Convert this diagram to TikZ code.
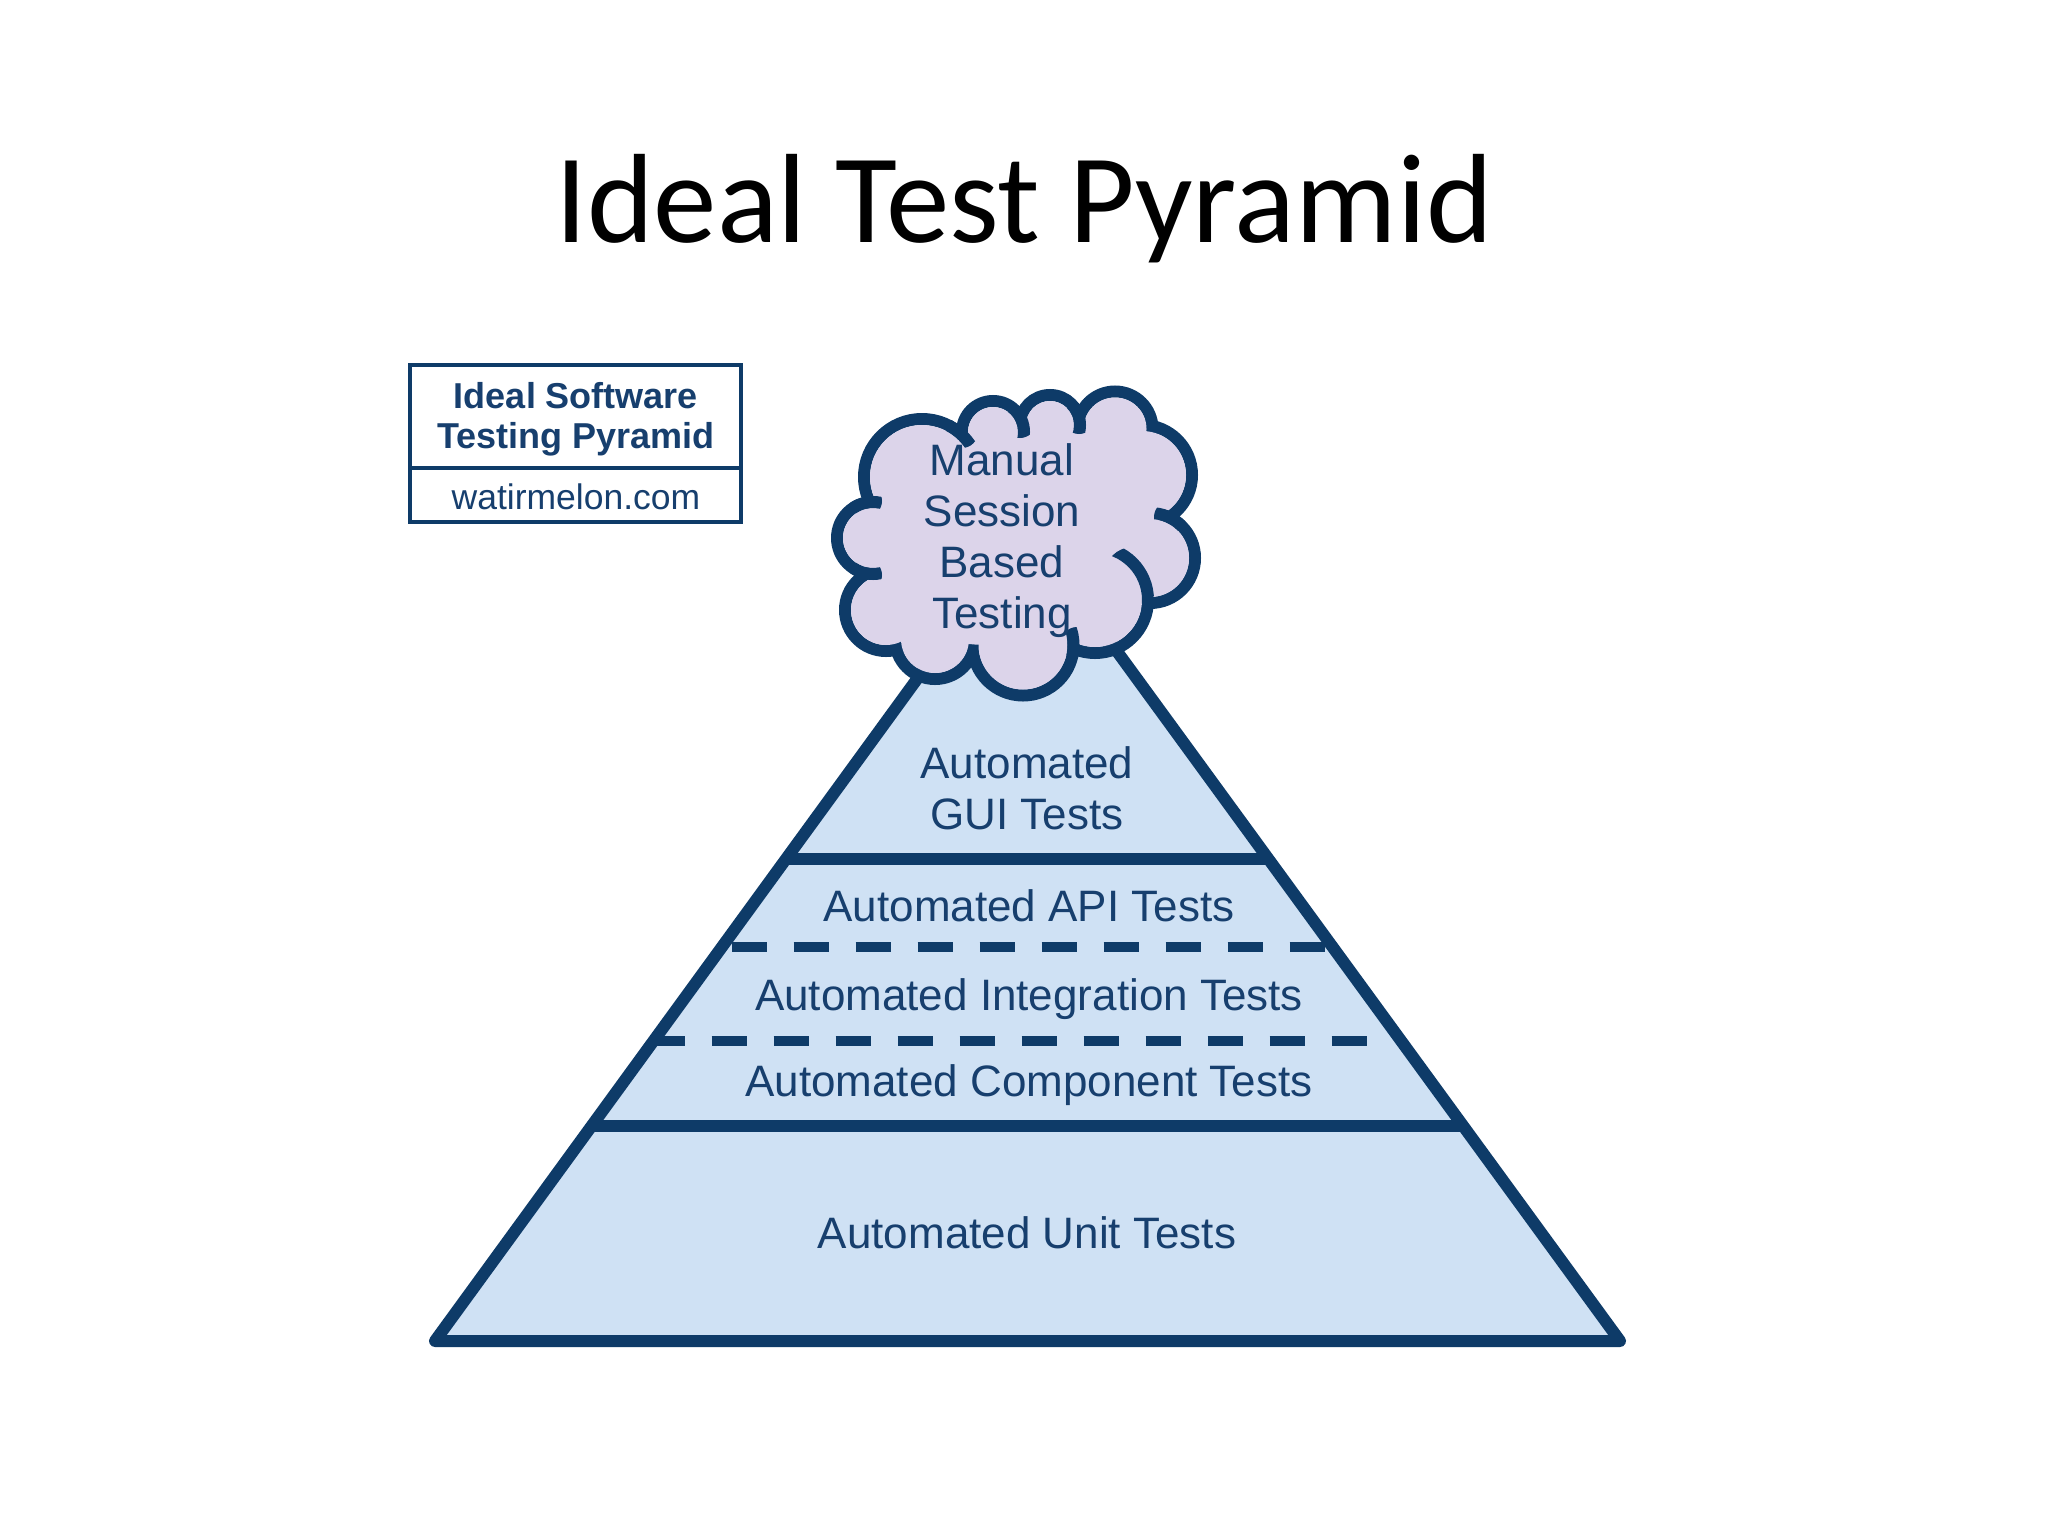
\documentclass[tikz,border=0pt]{standalone}
\usepackage{fontspec}
\setmainfont{Liberation Sans}
\newfontfamily\titlefont{Carlito}
\usetikzlibrary{calc}
\definecolor{navy}{HTML}{0E3B68}
\definecolor{labelc}{HTML}{173F6E}
\definecolor{pyrfill}{HTML}{CFE1F4}
\definecolor{cloudfill}{HTML}{DCD4EA}
\begin{document}
\begin{tikzpicture}[x=1pt,y=-1pt,
  edge/.style={draw=navy, line width=12pt, line join=round, line cap=round},
  divider/.style={draw=navy, line width=12pt},
  dashline/.style={draw=navy, line width=10pt, dash pattern=on 35pt off 27pt},
  label/.style={text=labelc, font=\fontsize{44}{51}\selectfont, align=center, inner sep=0pt},
  cell/.style={draw=navy, line width=4pt, inner sep=0pt, outer sep=0pt, minimum width=331pt},
  celltext/.style={text=labelc, align=center, inner sep=0pt},
  cloudline/.style={draw=navy, line width=12pt},
]
\useasboundingbox[fill=white] (0,0) rectangle (2048,1536);

% title
\node[font=\titlefont\fontsize{127}{132}\selectfont, anchor=base, inner sep=0pt] (title) at (1024,242) {Ideal Test Pyramid};

% legend box
\node[cell, minimum height=103pt] (boxtop) at (575.5,416.5) {};
\node[cell, minimum height=53.5pt, anchor=north] (boxbot) at (boxtop.south) {};
\node[celltext, font=\bfseries\fontsize{36}{40.5}\selectfont] (boxtitle) at (576,419.5) {Ideal Software\\Testing Pyramid};
\node[celltext, font=\fontsize{35.5}{40}\selectfont, anchor=base] (boxurl) at (576,509) {watirmelon.com};

% pyramid
\coordinate (bl) at (435,1341);
\coordinate (br) at (1620,1341);
\coordinate (apex) at (1027,528);
\path[fill=pyrfill] (bl) -- (apex) -- (br) -- cycle;

\coordinate (s1l) at ($(bl)!0.593!(apex)$);
\coordinate (s1r) at ($(br)!0.593!(apex)$);
\coordinate (s2l) at ($(bl)!0.264!(apex)$);
\coordinate (s2r) at ($(br)!0.264!(apex)$);
\coordinate (d1s) at (731.7,946.7);
\coordinate (d1e) at (1400,946.7);
\coordinate (d2s) at (649.7,1040.7);
\coordinate (d2e) at (1368,1040.7);

\begin{scope}
  \clip (bl) -- (apex) -- (br) -- cycle;
  \draw[divider] (s1l) -- (s1r);
  \draw[divider] (s2l) -- (s2r);
  \draw[dashline] (d1s) -- (d1e);
  \draw[dashline] (d2s) -- (d2e);
\end{scope}
\draw[edge] (bl) -- (apex) -- (br) -- cycle;

% labels
\node[label] (gui) at (1027,788.5) {Automated\\GUI Tests};
\node[label, anchor=base] (api) at (1029,921) {Automated API Tests};
\node[label, anchor=base] (integ) at (1029,1010) {Automated Integration Tests};
\node[label, anchor=base] (comp) at (1029,1096) {Automated Component Tests};
\node[label, anchor=base] (unit) at (1027,1248) {Automated Unit Tests};

% cloud: puff circles (centre and radius)
\coordinate (ctr) at (1015,540);
\coordinate (nA) at (962,432);
\coordinate (nB) at (1020,422);
\coordinate (nC) at (1079,418);
\coordinate (nK) at (1153,424);
\coordinate (nD) at (1170,517);
\coordinate (nE) at (1147,603);
\coordinate (nF) at (1077,643);
\coordinate (nG) at (973,656);
\coordinate (nH) at (895,646);
\coordinate (nI) at (866,575);
\coordinate (nJ) at (866,501);
\def\puffs{922/477/58, 993/432/31, 1050/425/30, 1115/429/37.5, 1142/475/50, 1150/558/45, 1095/600/53, 1023/645/50.5, 935/639/40, 886/610/41, 873/538/36}
\foreach \cx/\cy/\r in \puffs {\draw[cloudline] (\cx,\cy) circle[radius=\r];}
\fill[cloudfill] ($(nA)!12pt!(ctr)$) -- ($(nB)!12pt!(ctr)$) -- ($(nC)!12pt!(ctr)$) -- ($(nK)!12pt!(ctr)$)
  -- ($(nD)!12pt!(ctr)$) -- ($(nE)!12pt!(ctr)$) -- ($(nF)!12pt!(ctr)$) -- ($(nG)!12pt!(ctr)$)
  -- ($(nH)!12pt!(ctr)$) -- ($(nI)!12pt!(ctr)$) -- ($(nJ)!12pt!(ctr)$) -- cycle;
\foreach \cx/\cy/\r in \puffs {\fill[cloudfill] (\cx,\cy) circle[radius=\r-6];}
% inner stubs of the cloud outline
\foreach \nx/\cx/\cy/\r in {nA/922/477/58, nB/993/432/31, nC/1050/425/30, nD/1150/558/45, nF/1023/645/50.5, nI/873/538/36, nJ/873/538/36} {
  \begin{scope}
    \clip (\nx) circle[radius=16];
    \draw[cloudline] (\cx,\cy) circle[radius=\r];
  \end{scope}
}
\begin{scope}
  \clip (1133,576) circle[radius=29];
  \draw[cloudline] (1095,600) circle[radius=53];
\end{scope}
\node[label] (cloudtext) at (1002,541) {Manual\\Session\\Based\\Testing};
\end{tikzpicture}
\end{document}
